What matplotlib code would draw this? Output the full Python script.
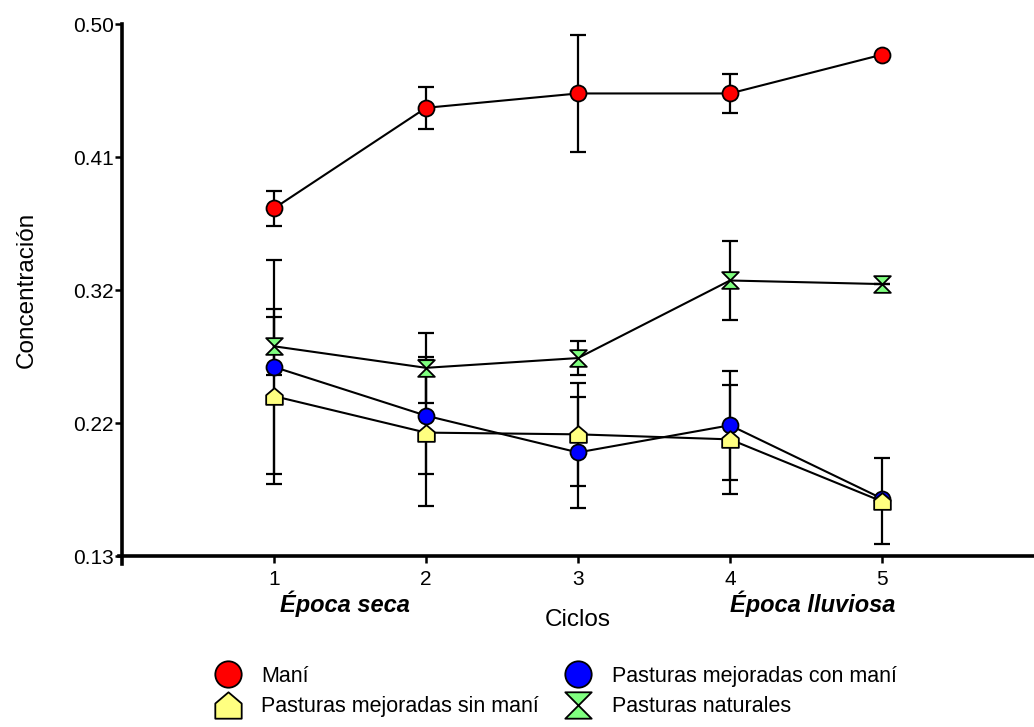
#Importing libraries.
import numpy as np
import matplotlib
matplotlib.use("Agg")
import matplotlib.pyplot as plt
from matplotlib.path import Path
from matplotlib.lines import Line2D

#Data.
ciclos = [1, 2, 3, 4, 5]
mani = [0.372, 0.442, 0.452, 0.452, 0.479]
mani_err = [0.012, 0.0146, 0.0408, 0.0135, 0.0]
con_mani = [0.2616, 0.2277, 0.2021, 0.2210, 0.1700]
con_mani_err = [0.0742, 0.0406, 0.0386, 0.0378, 0.0]
sin_mani = [0.2413, 0.2159, 0.2147, 0.2112, 0.1680]
sin_mani_err = [0.0609, 0.0508, 0.0357, 0.0378, 0.0299]
naturales = [0.2760, 0.2610, 0.2678, 0.3218, 0.3193]
naturales_err = [0.0203, 0.0245, 0.0120, 0.0278, 0.0]

#Axis ticks and labels.
ytick_values = [0.13, 0.2225, 0.315, 0.4075, 0.50]
ytick_labels = ["0.13", "0.22", "0.32", "0.41", "0.50"]
nombres = ["Maní", "Pasturas mejoradas con maní", "Pasturas mejoradas sin maní", "Pasturas naturales"]

plt.rcParams["font.family"] = ["Liberation Sans", "DejaVu Sans"]

#Custom markers: house (pentagon) and hourglass.
casa = Path([(-1, -1), (1, -1), (1, 0.15), (0, 1), (-1, 0.15), (-1, -1)],
            [Path.MOVETO, Path.LINETO, Path.LINETO, Path.LINETO, Path.LINETO, Path.CLOSEPOLY])
reloj = Path([(-1, 1), (1, 1), (0, 0), (-1, 1), (0, 0), (1, -1), (-1, -1), (0, 0)],
             [Path.MOVETO, Path.LINETO, Path.LINETO, Path.CLOSEPOLY,
              Path.MOVETO, Path.LINETO, Path.LINETO, Path.CLOSEPOLY])

fig = plt.figure(figsize=(10.34, 7.27), dpi=100)
ax = fig.add_axes([0.118, 0.2352, 0.882, 0.7311])

#Series: values, errors, marker, colour, size.
series = [
    (mani, mani_err, "o", "#ff0000", 11.5),
    (con_mani, con_mani_err, "o", "#0000ff", 11.5),
    (sin_mani, sin_mani_err, casa, "#ffff80", 12),
    (naturales, naturales_err, reloj, "#80ff80", 12),
]

for valores, errores, marca, color, tam in series:
    ax.errorbar(ciclos, valores, yerr=errores, fmt="none", ecolor="black",
                elinewidth=1.6, capsize=6, capthick=1.6, zorder=2)
    ax.plot(ciclos, valores, color="black", linewidth=1.5, marker=marca,
            markersize=tam, markerfacecolor=color, markeredgecolor="black",
            markeredgewidth=1.3, zorder=3)

#Axes styling.
ax.set_xlim(0, 6)
ax.set_ylim(0.13, 0.50)
ax.set_xticks(ciclos)
ax.set_yticks(ytick_values)
ax.set_yticklabels(ytick_labels)
ax.spines["top"].set_visible(False)
ax.spines["right"].set_visible(False)
ax.spines["left"].set_linewidth(2.6)
ax.spines["bottom"].set_linewidth(2.6)
ax.spines["left"].set_bounds(0.1245, 0.50)
ax.spines["bottom"].set_bounds(-0.02, 6)
ax.tick_params(axis="both", direction="out", length=5, width=1.8, labelsize=15, colors="black")
ax.tick_params(axis="y", pad=1)
ax.tick_params(axis="x", pad=5)

ax.set_ylabel("Concentración", fontsize=17.5)
ax.yaxis.set_label_coords(-0.092, 0.5)
ax.set_xlabel("Ciclos", fontsize=17.5)
ax.xaxis.set_label_coords(0.5, -0.100)

#Season labels under the axis.
trans = ax.get_xaxis_transform()
ax.text(1.04, -0.09, "Época seca", transform=trans, fontsize=17, fontweight="bold",
        fontstyle="italic", ha="left", va="center")
ax.text(4.0, -0.09, "Época lluviosa", transform=trans, fontsize=17, fontweight="bold",
        fontstyle="italic", ha="left", va="center")

#Legend (column order: Maní, sin maní | con maní, naturales).
handles = []
for (valores, errores, marca, color, tam), nombre in zip(series, nombres):
    handles.append(Line2D([], [], linestyle="none", marker=marca, markersize=19,
                          markerfacecolor=color, markeredgecolor="black",
                          markeredgewidth=1.3, label=nombre))
orden = [0, 2, 1, 3]
fig.legend([handles[i] for i in orden], [nombres[i] for i in orden], ncol=2,
           loc="upper left", bbox_to_anchor=(0.2065, 0.0839), frameon=False,
           fontsize=15.5, handlelength=1.3, handletextpad=0.9, columnspacing=1.2,
           labelspacing=0.42, borderpad=0, borderaxespad=0)

plt.savefig("out.png", dpi=100)
